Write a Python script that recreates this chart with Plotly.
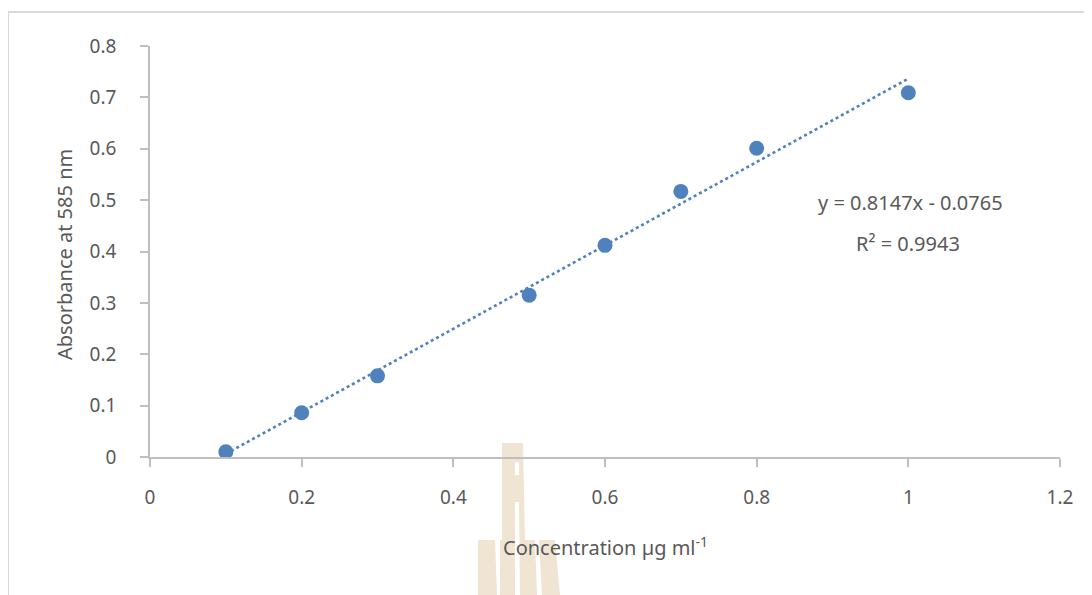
import numpy as np
import plotly.graph_objects as go

# ---- data ----
concentration = [0.1, 0.2, 0.3, 0.5, 0.6, 0.7, 0.8, 1.0]
absorbance = [0.010, 0.086, 0.158, 0.315, 0.412, 0.517, 0.601, 0.709]
x_ticks = [0, 0.2, 0.4, 0.6, 0.8, 1.0, 1.2]
x_tick_labels = ["0", "0.2", "0.4", "0.6", "0.8", "1", "1.2"]
y_ticks = [0, 0.1, 0.2, 0.3, 0.4, 0.5, 0.6, 0.7, 0.8]
y_tick_labels = ["0", "0.1", "0.2", "0.3", "0.4", "0.5", "0.6", "0.7", "0.8"]
equation_text = "y = 0.8147x - 0.0765"
r2_text = "R² = 0.9943"

# linear trendline fitted to the data
slope, intercept = np.polyfit(concentration, absorbance, 1)
trend_x = [min(concentration), max(concentration)]
trend_y = [slope * v + intercept for v in trend_x]

# page body adds an 8px margin, so the figure is laid out 8px in from the window
OFF = 8
W, H = 1092 - OFF, 595 - OFF
PW, PH = 910, 411
L, T = 150 - OFF, 46 - OFF
R, B = W - L - PW, H - T - PH


def px(xp):  # window pixel -> paper x
    return (xp - OFF - L) / PW


def py(yp):  # window pixel -> paper y
    return (H - B - (yp - OFF)) / PH


BLUE = "#4f81bd"
AXIS = "#bfbfbf"
TXT = "#595959"
FONT = "Noto Sans"

fig = go.Figure()
fig.add_trace(go.Scatter(
    x=trend_x, y=trend_y, mode="lines",
    line=dict(color=BLUE, width=2.6, dash="dot"),
    hoverinfo="skip", showlegend=False,
))
fig.add_trace(go.Scatter(
    x=concentration, y=absorbance, mode="markers",
    marker=dict(color=BLUE, size=15, line=dict(width=0)),
    showlegend=False,
))

shapes = []
# outer light frame
shapes.append(dict(type="rect", xref="paper", yref="paper",
                   x0=px(8), x1=px(1200), y0=py(700), y1=py(12),
                   line=dict(color="#d9d9d9", width=2), fillcolor="rgba(0,0,0,0)",
                   layer="below"))
# watermark (approximate logo)
wm = "#efe5d2"


def poly(points, color=wm):
    d = "M " + " L ".join(f"{px(a)},{py(b)}" for a, b in points) + " Z"
    return dict(type="path", xref="paper", yref="paper", path=d,
                fillcolor=color, line=dict(width=0), layer="below")


shapes.append(poly([(502, 443), (523, 443), (525, 540), (502, 540)]))
shapes.append(poly([(500, 540), (535, 540), (537, 595), (500, 595)]))
shapes.append(poly([(478, 540), (495, 540), (497, 595), (478, 595)]))
shapes.append(poly([(539, 540), (555, 540), (560, 595), (542, 595)]))
shapes.append(poly([(515, 462), (519, 462), (519, 475), (515, 475)], "white"))
shapes.append(poly([(515, 502), (519, 502), (520, 595), (515, 595)], "white"))

annotations = [
    dict(text="Absorbance at 585 nm", xref="paper", yref="paper",
         x=px(65), y=py(255), textangle=-90, showarrow=False,
         xanchor="center", yanchor="middle",
         font=dict(family=FONT, size=20, color=TXT)),
    dict(text="Concentration µg ml<sup>-1</sup>", xref="paper", yref="paper",
         x=px(605), y=py(546), showarrow=False,
         xanchor="center", yanchor="middle",
         font=dict(family=FONT, size=20, color=TXT)),
    dict(text=equation_text, xref="paper", yref="paper",
         x=px(910), y=py(202), showarrow=False,
         xanchor="center", yanchor="middle",
         font=dict(family=FONT, size=20, color=TXT)),
    dict(text=r2_text, xref="paper", yref="paper",
         x=px(908), y=py(243), showarrow=False,
         xanchor="center", yanchor="middle",
         font=dict(family=FONT, size=20, color=TXT)),
]

fig.update_layout(
    width=W, height=H,
    margin=dict(l=L, r=R, t=T, b=B, pad=0),
    paper_bgcolor="white", plot_bgcolor="white",
    font=dict(family=FONT, size=19, color=TXT),
    shapes=shapes, annotations=annotations,
    xaxis=dict(range=[0, 1.2], tickvals=x_ticks, ticktext=x_tick_labels,
               showgrid=False, zeroline=False, showline=True, linecolor=AXIS,
               linewidth=1.6, ticks="outside", ticklen=8, tickwidth=1.6,
               tickcolor=AXIS, ticklabelstandoff=14,
               tickfont=dict(family=FONT, size=19, color=TXT)),
    yaxis=dict(range=[0, 0.8], tickvals=y_ticks, ticktext=y_tick_labels,
               showgrid=False, zeroline=False, showline=True, linecolor=AXIS,
               linewidth=1.6, ticks="outside", ticklen=8, tickwidth=1.6,
               tickcolor=AXIS, ticklabelstandoff=20,
               tickfont=dict(family=FONT, size=19, color=TXT)),
)

fig.write_html("out.html")
